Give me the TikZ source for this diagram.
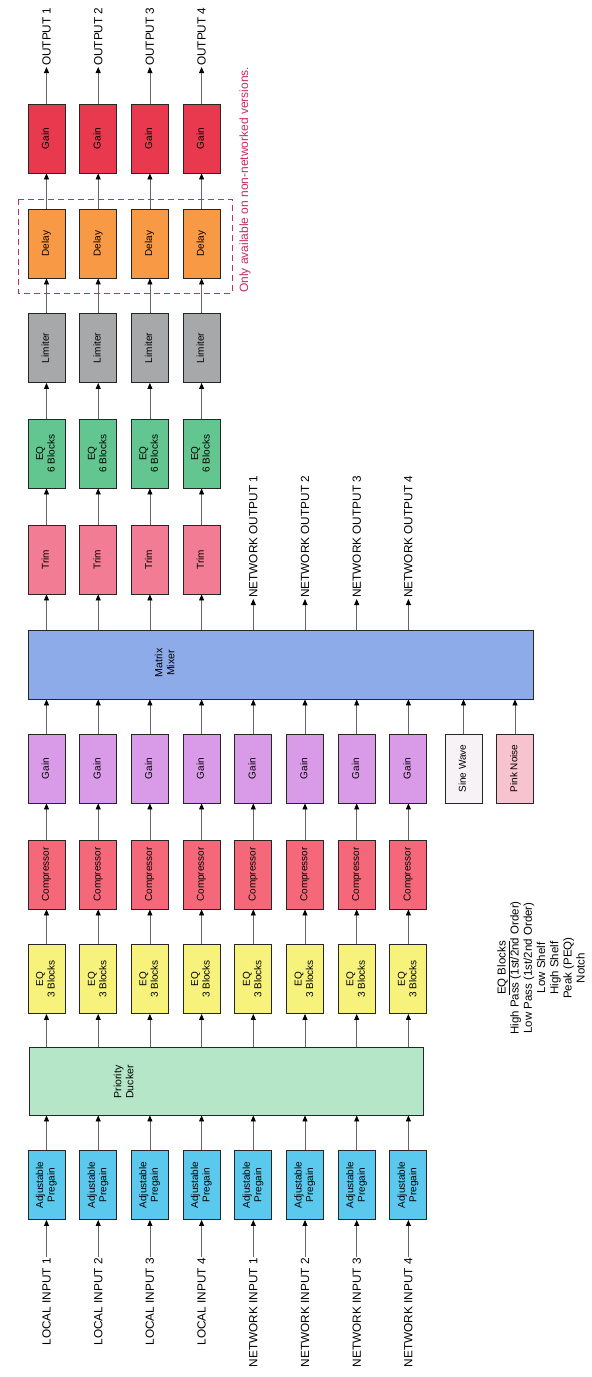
\documentclass[tikz,border=0pt]{standalone}
\usepackage{fontspec}
\setmainfont{Liberation Sans}
\usepackage{graphicx}
\usetikzlibrary{arrows.meta}
\definecolor{cpre}{HTML}{5BC8EE}
\definecolor{cduck}{HTML}{B5E6C8}
\definecolor{ceqa}{HTML}{F7F27C}
\definecolor{ccomp}{HTML}{F4687A}
\definecolor{cgainp}{HTML}{D99AE8}
\definecolor{csine}{HTML}{F6F2F6}
\definecolor{cpink}{HTML}{F7C3CE}
\definecolor{cmix}{HTML}{8DAAE9}
\definecolor{ctrim}{HTML}{F27C93}
\definecolor{ceqb}{HTML}{63C58F}
\definecolor{clim}{HTML}{A7A8AA}
\definecolor{cdelay}{HTML}{F89A45}
\definecolor{cgainr}{HTML}{E8394F}
\definecolor{cdash}{HTML}{C42E5E}
\newcommand\rt[1]{\rotatebox{90}{\begin{tabular}{@{}c@{}}#1\end{tabular}}}
\begin{document}
\begin{tikzpicture}[x=1pt,y=-1pt,
  blk/.style={draw=black!85, line width=0.9pt, minimum width=37pt, minimum height=69pt, inner sep=0pt, font=\fontsize{10}{11.5}\selectfont},
  bigblk/.style={draw=black!85, line width=0.9pt, inner sep=0pt},
  arr/.style={draw=black!60, line width=0.8pt, -{Triangle[length=6pt,width=5pt,color=black]}},
  lbl/.style={rotate=90, font=\fontsize{11.8}{13}\selectfont, inner sep=1pt}]
\useasboundingbox (0,0) rectangle (592,1377);
\fill[white] (0,0) rectangle (592,1377);
% big blocks
\node[bigblk, fill=cduck, minimum width=394pt, minimum height=68pt] (duck) at (226,1081) {};
\node[font=\fontsize{10.5}{12}\selectfont] (ducktxt) at (125,1082) {\rt{Priority\\Ducker}};
\node[bigblk, fill=cmix, minimum width=505pt, minimum height=69pt] (mix) at (280.5,664.5) {};
\node[font=\fontsize{10.5}{12}\selectfont] (mixtxt) at (166,663) {\rt{Matrix\\Mixer}};
% input lanes
\foreach \i/\t in {1/LOCAL INPUT 1,2/LOCAL INPUT 2,3/LOCAL INPUT 3,4/LOCAL INPUT 4,5/NETWORK INPUT 1,6/NETWORK INPUT 2,7/NETWORK INPUT 3,8/NETWORK INPUT 4}{
  \pgfmathsetmacro\x{46.5+51.7*(\i-1)}
  \node[blk, fill=cpre] (pre\i) at (\x,1185) {\rt{Adjustable\\Pregain}};
  \node[lbl, anchor=east] (in\i) at (\x,1257) {\t};
  \node[blk, fill=ceqa] (eqa\i) at (\x,979) {\rt{EQ\\3 Blocks}};
  \node[blk, fill=ccomp] (comp\i) at (\x,874.5) {\rt{Compressor}};
  \node[blk, fill=cgainp] (gain\i) at (\x,768.5) {\rt{Gain}};
  \draw[arr] (in\i.east) -- (pre\i.south);
  \draw[arr] (pre\i.north) -- (pre\i.north |- duck.south);
  \draw[arr] (eqa\i.south |- duck.north) -- (eqa\i.south);
  \draw[arr] (eqa\i.north) -- (comp\i.south);
  \draw[arr] (comp\i.north) -- (gain\i.south);
  \draw[arr] (gain\i.north) -- (gain\i.north |- mix.south);
}
\node[blk, fill=csine] (sine) at (463.5,768.5) {\rt{Sine Wave}};
\node[blk, fill=cpink] (pink) at (515,768.5) {\rt{Pink Noise}};
\draw[arr] (sine.north) -- (sine.north |- mix.south);
\draw[arr] (pink.north) -- (pink.north |- mix.south);
% output lanes
\foreach \i in {1,2,3,4}{
  \pgfmathsetmacro\x{46.5+51.7*(\i-1)}
  \node[blk, fill=ctrim] (trim\i) at (\x,559.5) {\rt{Trim}};
  \node[blk, fill=ceqb] (eqb\i) at (\x,453.5) {\rt{EQ\\6 Blocks}};
  \node[blk, fill=clim] (lim\i) at (\x,348) {\rt{Limiter}};
  \node[blk, fill=cdelay] (del\i) at (\x,243.5) {\rt{Delay}};
  \node[blk, fill=cgainr] (gr\i) at (\x,138.5) {\rt{Gain}};
  \node[lbl, anchor=west] (out\i) at (\x,67) {OUTPUT \i};
  \draw[arr] (trim\i.south |- mix.north) -- (trim\i.south);
  \draw[arr] (trim\i.north) -- (eqb\i.south);
  \draw[arr] (eqb\i.north) -- (lim\i.south);
  \draw[arr] (lim\i.north) -- (del\i.south);
  \draw[arr] (del\i.north) -- (gr\i.south);
  \draw[arr] (gr\i.north) -- (out\i.west);
}
\foreach \i/\n in {5/1,6/2,7/3,8/4}{
  \pgfmathsetmacro\x{46.5+51.7*(\i-1)}
  \node[lbl, anchor=west] (nout\i) at (\x,599) {NETWORK OUTPUT \n};
  \draw[arr] (nout\i.west |- mix.north) -- (nout\i.west);
}
% dashed region
\draw[cdash, line width=1pt, dash pattern=on 6pt off 4pt] (18,199) rectangle (232,293);
\node[rotate=90, anchor=west, text=cdash, inner sep=0pt, font=\fontsize{12}{14}\selectfont] (note) at (245,293) {Only available on non-networked versions.};
% legend
\node[rotate=90, align=center, inner sep=0pt, font=\fontsize{11.5}{13.2}\selectfont] (legend) at (541,968) {\underline{EQ Blocks}\\High Pass (1st/2nd Order)\\Low Pass (1st/2nd Order)\\Low Shelf\\High Shelf\\Peak (PEQ)\\Notch};
\end{tikzpicture}
\end{document}
